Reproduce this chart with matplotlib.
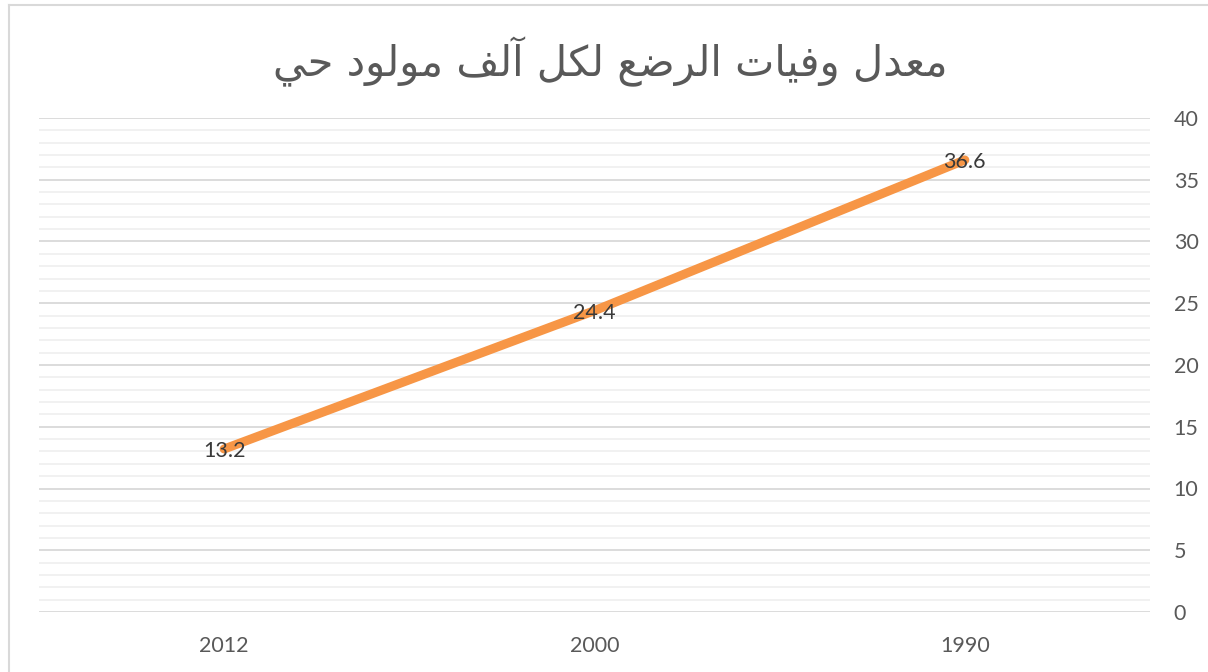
import matplotlib
matplotlib.use("Agg")
import matplotlib.pyplot as plt
from matplotlib.lines import Line2D
from matplotlib.ticker import MultipleLocator

years = ["1990", "2000", "2012"]
rates = [36.6, 24.4, 13.2]
title = "معدل وفيات الرضع لكل آلف مولود حي"

# Arabic presentation forms: (isolated, final, initial, medial).
# Letters with only two entries join to the previous letter only.
FORMS = {
    "ا": (0xFE8D, 0xFE8E),
    "آ": (0xFE81, 0xFE82),
    "د": (0xFEA9, 0xFEAA),
    "ر": (0xFEAD, 0xFEAE),
    "و": (0xFEED, 0xFEEE),
    "ت": (0xFE95, 0xFE96, 0xFE97, 0xFE98),
    "ح": (0xFEA1, 0xFEA2, 0xFEA3, 0xFEA4),
    "ض": (0xFEBD, 0xFEBE, 0xFEBF, 0xFEC0),
    "ع": (0xFEC9, 0xFECA, 0xFECB, 0xFECC),
    "ف": (0xFED1, 0xFED2, 0xFED3, 0xFED4),
    "ك": (0xFED9, 0xFEDA, 0xFEDB, 0xFEDC),
    "ل": (0xFEDD, 0xFEDE, 0xFEDF, 0xFEE0),
    "م": (0xFEE1, 0xFEE2, 0xFEE3, 0xFEE4),
    "ي": (0xFEF1, 0xFEF2, 0xFEF3, 0xFEF4),
}


def shape_arabic(text):
    """Pick contextual letter forms and return the string in visual order."""
    out = []
    for i, ch in enumerate(text):
        if ch not in FORMS:
            out.append(ch)
            continue
        prev = text[i - 1] if i > 0 else ""
        nxt = text[i + 1] if i + 1 < len(text) else ""
        dual = len(FORMS[ch]) == 4
        join_prev = prev in FORMS and len(FORMS[prev]) == 4
        join_next = dual and nxt in FORMS
        if join_prev and join_next:
            idx = 3
        elif join_prev:
            idx = 1
        elif join_next:
            idx = 2
        else:
            idx = 0
        out.append(chr(FORMS[ch][idx]))
    return "".join(reversed(out))


W, H = 1208, 672
fig = plt.figure(figsize=(W / 100, H / 100), dpi=100)
ax = fig.add_axes([39 / W, 1 - 612 / H, (1150 - 39) / W, (612 - 118) / H])

x = list(range(len(years)))
ax.plot(x, rates, color="#F79646", lw=6.5, solid_capstyle="round", zorder=3)
for xi, v in zip(x, rates):
    ax.text(xi, v, f"{v:.1f}", ha="center", va="center_baseline", fontsize=15.5,
            family="Lato", color="#3A3A3A", zorder=4)

ax.set_xlim(-0.5, len(years) - 0.5)
ax.invert_xaxis()
ax.set_ylim(0, 40)
ax.set_xticks(x)
ax.set_xticklabels(years)

ax.yaxis.set_major_locator(MultipleLocator(5))
ax.yaxis.set_minor_locator(MultipleLocator(1))
ax.yaxis.tick_right()
ax.grid(axis="y", which="major", color="#D9D9D9", lw=1.3, zorder=1)
ax.grid(axis="y", which="minor", color="#F0F0F0", lw=1.3, zorder=0)
ax.tick_params(axis="both", which="both", length=0, labelsize=15.5,
               labelcolor="#595959")
ax.tick_params(axis="y", pad=17)
ax.tick_params(axis="x", pad=17)
for lab in ax.get_xticklabels() + ax.get_yticklabels():
    lab.set_family("Lato")
for s in ax.spines.values():
    s.set_visible(False)

fig.text(610 / W, 1 - 62 / H, shape_arabic(title), ha="center", va="center",
         fontsize=30, family="DejaVu Sans", color="#595959")

# outer chart frame
fig.add_artist(Line2D([9 / W, 1], [1 - 5 / H, 1 - 5 / H], color="#D9D9D9", lw=1.5,
                      transform=fig.transFigure))
fig.add_artist(Line2D([9 / W, 9 / W], [0, 1 - 5 / H], color="#D9D9D9", lw=1.5,
                      transform=fig.transFigure))

fig.savefig("out.png", dpi=100)
